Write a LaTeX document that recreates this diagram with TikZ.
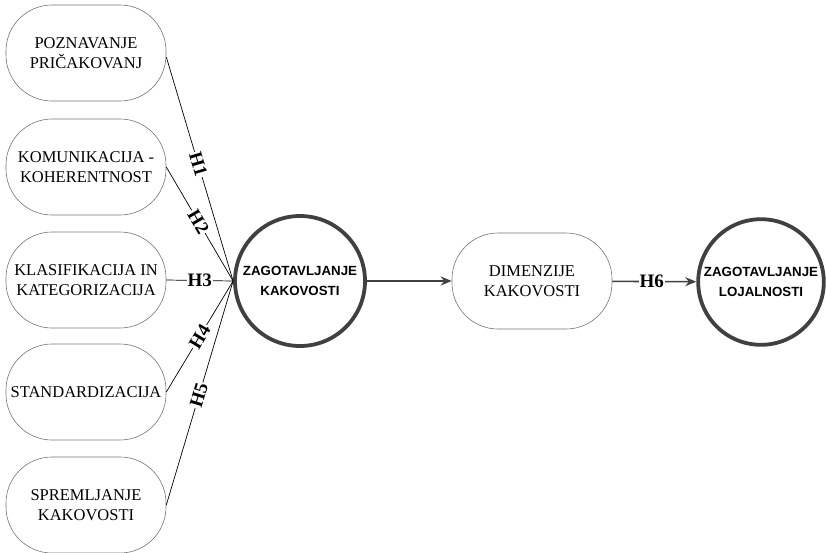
\documentclass[tikz,border=0pt]{standalone}
\usepackage{fontspec}
\setmainfont{Liberation Serif}
\newfontfamily\headfont{Liberation Sans}
\usetikzlibrary{arrows.meta}
\tikzset{
  factor/.style={draw=black!55,line width=0.6pt,rounded corners=46pt,minimum width=160pt,minimum height=96pt,align=center,font=\fontsize{16.5}{20}\selectfont},
  construct/.style={circle,draw=black!75,line width=3.8pt,align=center,font=\headfont\bfseries\fontsize{13.3}{19.5}\selectfont},
  hyp/.style={fill=white,text=black,inner sep=1pt,font=\bfseries\fontsize{19}{18}\selectfont},
  link/.style={black,line width=0.7pt},
  flow/.style={black!75,line width=1.6pt,-{Stealth[length=11pt,width=9pt]}}
}
\begin{document}
\begin{tikzpicture}[x=1pt,y=-1pt]
  \useasboundingbox (0,0) rectangle (826,552);
  % vplivni dejavniki
  \node[factor] (poznavanje) at (86,53) {POZNAVANJE\\PRIČAKOVANJ};
  \node[factor] (komunikacija) at (86,167) {KOMUNIKACIJA -\\KOHERENTNOST};
  \node[factor] (klasifikacija) at (86,280) {KLASIFIKACIJA IN\\KATEGORIZACIJA};
  \node[factor] (standardizacija) at (86,392) {STANDARDIZACIJA};
  \node[factor] (spremljanje) at (86,505) {SPREMLJANJE\\KAKOVOSTI};
  % konstrukti
  \node[construct,minimum size=130pt] (zkakovosti) at (300,281) {ZAGOTAVLJANJE\\KAKOVOSTI};
  \node[factor] (dimenzije) at (532,281) {DIMENZIJE\\KAKOVOSTI};
  \node[construct,minimum size=124pt] (zlojalnosti) at (761,282) {ZAGOTAVLJANJE\\LOJALNOSTI};
  % hipoteze
  \draw[link] (poznavanje.east) ++(0,4) -- node[hyp,sloped,pos=0.48] {H1} (zkakovosti.west);
  \draw[link] (komunikacija.east) -- node[hyp,sloped,pos=0.48] {H2} (zkakovosti.west);
  \draw[link] (klasifikacija.east) -- node[hyp,pos=0.5] {H3} (zkakovosti.west);
  \draw[link] (standardizacija.east) -- node[hyp,sloped,pos=0.5] {H4} (zkakovosti.west);
  \draw[link] (spremljanje.east) -- node[hyp,sloped,pos=0.49] {H5} (zkakovosti.west);
  \draw[flow] (zkakovosti) -- (dimenzije);
  \draw[flow] (dimenzije) -- node[hyp,pos=0.47] {H6} (zlojalnosti);
\end{tikzpicture}
\end{document}
